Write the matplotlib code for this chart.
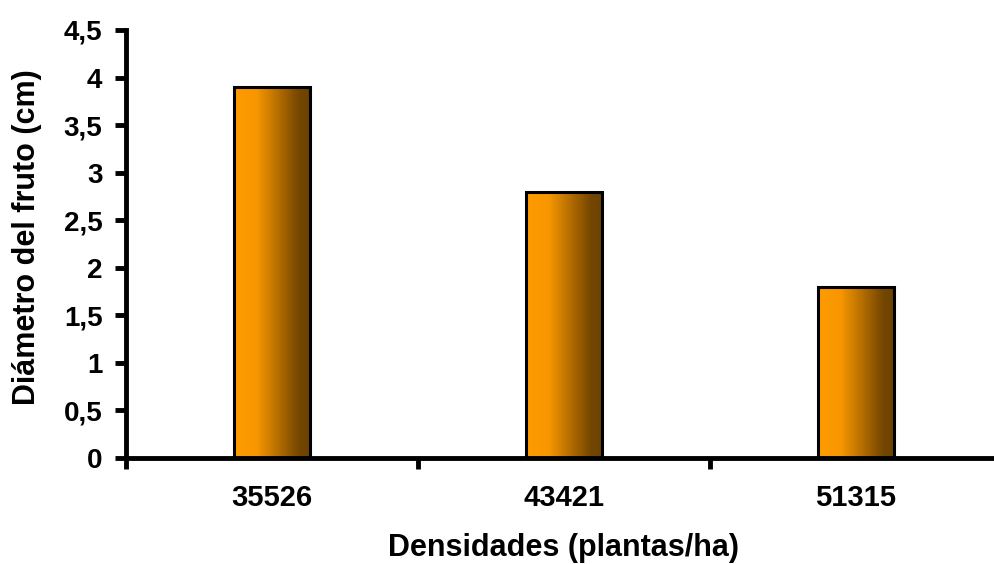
import numpy as np
import matplotlib.pyplot as plt
from matplotlib.colors import LinearSegmentedColormap
from matplotlib.ticker import FuncFormatter, FixedLocator

densidades = ['35526', '43421', '51315']
diametro = [3.9, 2.8, 1.8]
yticks = [0, 0.5, 1, 1.5, 2, 2.5, 3, 3.5, 4, 4.5]

plt.rcParams['font.family'] = ['Liberation Sans', 'DejaVu Sans']
plt.rcParams['font.weight'] = 'bold'

# orange -> brown shading across each bar
cmap = LinearSegmentedColormap.from_list('naranja', [
    (0.0, (1.0, 0.61, 0.0)),
    (0.3, (0.97, 0.59, 0.0)),
    (0.85, (0.46, 0.28, 0.0)),
    (1.0, (0.42, 0.26, 0.0)),
])

fig = plt.figure(figsize=(9.94, 5.64), dpi=100)
ax = fig.add_axes([126 / 994, 106 / 564, 876 / 994, 428 / 564])

x = np.arange(len(densidades))
ancho = 0.26
bars = ax.bar(x, diametro, width=ancho, facecolor='none', edgecolor='black',
              linewidth=2.2, zorder=3)

grad = np.linspace(0, 1, 256).reshape(1, -1)
for b in bars:
    x0, y0 = b.get_x(), b.get_y()
    im = ax.imshow(grad, extent=[x0, x0 + b.get_width(), y0, y0 + b.get_height()],
                   aspect='auto', cmap=cmap, zorder=2, interpolation='bilinear')
    im.set_clip_path(b)

ax.set_xlim(-0.5, len(densidades) - 0.5)
ax.set_ylim(0, 4.5)

for s in ['top', 'right']:
    ax.spines[s].set_visible(False)
for s in ['left', 'bottom']:
    ax.spines[s].set_linewidth(3.5)

ax.set_yticks(yticks)
ax.yaxis.set_major_formatter(FuncFormatter(lambda v, p: f'{v:g}'.replace('.', ',')))
ax.tick_params(axis='y', direction='out', length=8, width=3.5, pad=9, labelsize=20)

ax.set_xticks(x)
ax.set_xticklabels(densidades)
ax.xaxis.set_minor_locator(FixedLocator(np.arange(len(densidades) + 1) - 0.5))
ax.tick_params(axis='x', which='major', length=0, pad=19, labelsize=21)
ax.tick_params(axis='x', which='minor', direction='out', length=8, width=3.5)

fig.text(564 / 994, 1 - 548 / 564, 'Densidades (plantas/ha)', ha='center', va='center',
         fontsize=22, fontweight='bold')
fig.text(27 / 994, 1 - 237 / 564, 'Diámetro del fruto (cm)', ha='center', va='center',
         rotation=90, fontsize=22, fontweight='bold')

fig.savefig('out.png', dpi=100)
